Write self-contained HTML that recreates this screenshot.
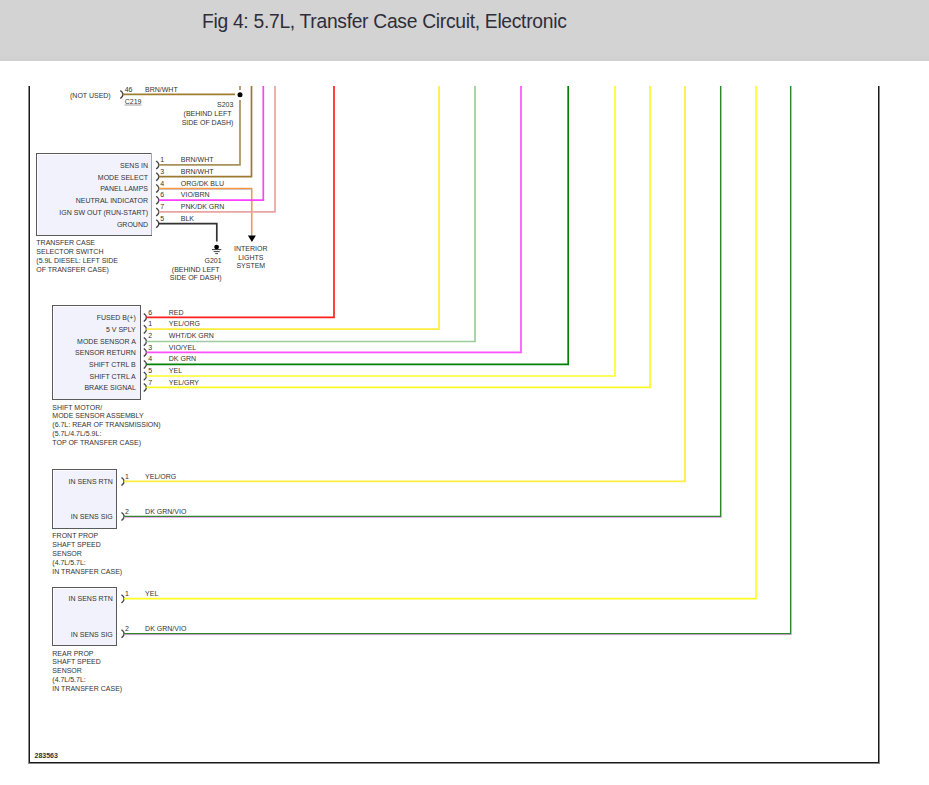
<!DOCTYPE html>
<html><head><meta charset="utf-8"><style>
html,body{margin:0;padding:0;background:#fff;width:929px;height:785px;overflow:hidden}
#hdr{position:absolute;left:0;top:0;width:929px;height:61px;background:linear-gradient(#d3d3d3 0,#d3d3d3 56px,#cfcfcf 61px)}
#title{position:absolute;left:202px;top:10.5px;font-family:"Liberation Sans",sans-serif;font-size:19.3px;letter-spacing:-0.3px;color:#2e2e3a;white-space:nowrap}
svg{position:absolute;left:0;top:0}
svg text{font-family:"Liberation Sans",sans-serif}
</style></head><body>
<div id="hdr"><div id="title">Fig 4: 5.7L, Transfer Case Circuit, Electronic</div></div>
<svg width="929" height="785" viewBox="0 0 929 785">
<rect x="28" y="86" width="1" height="678" fill="#8a8a8a"/>
<rect x="29" y="86" width="1" height="677" fill="#1a1a1a"/>
<rect x="878" y="86" width="1" height="677" fill="#1a1a1a"/>
<rect x="879" y="86" width="1" height="678" fill="#8a8a8a"/>
<rect x="29" y="762" width="850" height="1" fill="#1a1a1a"/>
<rect x="28" y="763" width="852" height="1" fill="#8a8a8a"/>
<text x="70" y="98.00" text-anchor="start" fill="#333" font-size="7" >(NOT USED)</text>
<path d="M120.3,90.5 Q123.3,92.9 122.8,94.4 Q123.3,95.9 120.3,98.60000000000001" fill="none" stroke="#444" stroke-width="1.3"/>
<line x1="122.8" y1="94.4" x2="235" y2="94.4" stroke="#a07c30" stroke-width="1.7"/>
<text x="124.7" y="92.00" text-anchor="start" fill="#333" font-size="7" >46</text>
<text x="145" y="92.00" text-anchor="start" fill="#333" font-size="7" >BRN/WHT</text>
<text x="124.7" y="104.00" text-anchor="start" fill="#333" font-size="7" >C219</text>
<line x1="124.5" y1="105" x2="141.5" y2="105" stroke="#888" stroke-width="0.8"/>
<text x="233.4" y="107.00" text-anchor="end" fill="#333" font-size="7" >S203</text>
<text x="233.4" y="116.00" text-anchor="end" fill="#333" font-size="7" >(BEHIND LEFT </text>
<text x="233.4" y="125.00" text-anchor="end" fill="#333" font-size="7" >SIDE OF DASH)</text>
<rect x="36" y="153" width="116" height="83" fill="#5a5a5a"/>
<rect x="151" y="153" width="1" height="82" fill="#a8a8b0"/>
<rect x="37" y="154" width="114" height="81" fill="#fdfdff"/>
<rect x="38" y="155" width="113" height="80" fill="#f2f2fc"/>
<text x="148" y="167.90" text-anchor="end" fill="#333" font-size="7" >SENS IN</text>
<path d="M156.2,161.0 Q159.2,163.4 158.7,164.9 Q159.2,166.4 156.2,169.1" fill="none" stroke="#444" stroke-width="1.3"/>
<text x="160.2" y="162.00" text-anchor="start" fill="#333" font-size="7" >1</text>
<text x="180.8" y="162.00" text-anchor="start" fill="#333" font-size="7" >BRN/WHT</text>
<text x="148" y="179.60" text-anchor="end" fill="#333" font-size="7" >MODE SELECT</text>
<path d="M156.2,172.7 Q159.2,175.1 158.7,176.6 Q159.2,178.1 156.2,180.79999999999998" fill="none" stroke="#444" stroke-width="1.3"/>
<text x="160.2" y="174.00" text-anchor="start" fill="#333" font-size="7" >3</text>
<text x="180.8" y="174.00" text-anchor="start" fill="#333" font-size="7" >BRN/WHT</text>
<text x="148" y="191.40" text-anchor="end" fill="#333" font-size="7" >PANEL LAMPS</text>
<path d="M156.2,184.5 Q159.2,186.9 158.7,188.4 Q159.2,189.9 156.2,192.6" fill="none" stroke="#444" stroke-width="1.3"/>
<text x="160.2" y="186.00" text-anchor="start" fill="#333" font-size="7" >4</text>
<text x="180.8" y="186.00" text-anchor="start" fill="#333" font-size="7" >ORG/DK BLU</text>
<text x="148" y="203.10" text-anchor="end" fill="#333" font-size="7" >NEUTRAL INDICATOR</text>
<path d="M156.2,196.2 Q159.2,198.6 158.7,200.1 Q159.2,201.6 156.2,204.29999999999998" fill="none" stroke="#444" stroke-width="1.3"/>
<text x="160.2" y="197.00" text-anchor="start" fill="#333" font-size="7" >6</text>
<text x="180.8" y="197.00" text-anchor="start" fill="#333" font-size="7" >VIO/BRN</text>
<text x="148" y="214.90" text-anchor="end" fill="#333" font-size="7" >IGN SW OUT (RUN-START)</text>
<path d="M156.2,208.0 Q159.2,210.4 158.7,211.9 Q159.2,213.4 156.2,216.1" fill="none" stroke="#444" stroke-width="1.3"/>
<text x="160.2" y="209.00" text-anchor="start" fill="#333" font-size="7" >7</text>
<text x="180.8" y="209.00" text-anchor="start" fill="#333" font-size="7" >PNK/DK GRN</text>
<text x="148" y="226.60" text-anchor="end" fill="#333" font-size="7" >GROUND</text>
<path d="M156.2,219.7 Q159.2,222.1 158.7,223.6 Q159.2,225.1 156.2,227.79999999999998" fill="none" stroke="#444" stroke-width="1.3"/>
<text x="160.2" y="221.00" text-anchor="start" fill="#333" font-size="7" >5</text>
<text x="180.8" y="221.00" text-anchor="start" fill="#333" font-size="7" >BLK</text>
<polyline points="158.7,164.9 240,164.9 240,100" fill="none" stroke="#a8925c" stroke-width="1.7" stroke-linejoin="miter" />
<line x1="240" y1="86" x2="240" y2="90" stroke="#a8925c" stroke-width="1.7"/>
<circle cx="240" cy="94.7" r="4.2" fill="#fff"/><circle cx="240" cy="94.7" r="2.5" fill="#000"/>
<polyline points="158.7,176.6 251.5,176.6 251.5,86" fill="none" stroke="#9a7a30" stroke-width="1.7" stroke-linejoin="miter" />
<polyline points="158.7,189.3 251.7,189.3 251.7,236" fill="none" stroke="#b4c0f0" stroke-width="1" stroke-linejoin="miter" />
<polyline points="158.7,188.4 251.7,188.4 251.7,236" fill="none" stroke="#fa9840" stroke-width="1.5" stroke-linejoin="miter" />
<polygon points="247.9,235.5 255.9,235.5 251.9,242" fill="#000"/>
<polyline points="158.7,200.1 263.3,200.1 263.3,86" fill="none" stroke="#ff40ff" stroke-width="1.7" stroke-linejoin="miter" />
<polyline points="158.7,211.9 275,211.9 275,86" fill="none" stroke="#e8a4a4" stroke-width="1.7" stroke-linejoin="miter" />
<polyline points="158.7,223.6 216.8,223.6 216.8,241.6" fill="none" stroke="#333" stroke-width="1.7" stroke-linejoin="miter" />
<circle cx="216.6" cy="247.1" r="2.4" fill="#000"/>
<line x1="212" y1="249.6" x2="221.3" y2="249.6" stroke="#222" stroke-width="0.9"/>
<line x1="213.7" y1="251.6" x2="219.7" y2="251.6" stroke="#333" stroke-width="0.9"/>
<line x1="215.2" y1="253.6" x2="218" y2="253.6" stroke="#333" stroke-width="0.9"/>
<text x="221.6" y="263.00" text-anchor="end" fill="#333" font-size="7" >G201</text>
<text x="221.6" y="272.00" text-anchor="end" fill="#333" font-size="7" >(BEHIND LEFT </text>
<text x="221.6" y="280.00" text-anchor="end" fill="#333" font-size="7" >SIDE OF DASH)</text>
<text x="250.8" y="251.00" text-anchor="middle" fill="#333" font-size="7" >INTERIOR</text>
<text x="250.8" y="260.00" text-anchor="middle" fill="#333" font-size="7" >LIGHTS</text>
<text x="250.8" y="268.00" text-anchor="middle" fill="#333" font-size="7" >SYSTEM</text>
<text x="36.3" y="245.30" text-anchor="start" fill="#333" font-size="7" >TRANSFER CASE</text>
<text x="36.3" y="254.10" text-anchor="start" fill="#333" font-size="7" >SELECTOR SWITCH</text>
<text x="36.3" y="262.90" text-anchor="start" fill="#333" font-size="7" >(5.9L DIESEL: LEFT SIDE</text>
<text x="36.3" y="271.70" text-anchor="start" fill="#333" font-size="7" >OF TRANSFER CASE)</text>
<rect x="52" y="305" width="89" height="95" fill="#5a5a5a"/>
<rect x="140" y="305" width="1" height="94" fill="#5a5a5a"/>
<rect x="53" y="306" width="87" height="93" fill="#fdfdff"/>
<rect x="54" y="307" width="86" height="92" fill="#f2f2fc"/>
<text x="135.8" y="320.20" text-anchor="end" fill="#333" font-size="7" >FUSED B(+)</text>
<path d="M143.8,313.5 Q146.8,315.9 146.3,317.4 Q146.8,318.9 143.8,321.59999999999997" fill="none" stroke="#444" stroke-width="1.3"/>
<text x="148.2" y="315.00" text-anchor="start" fill="#333" font-size="7" >6</text>
<text x="168.8" y="315.00" text-anchor="start" fill="#333" font-size="7" >RED</text>
<polyline points="146.3,317.4 334,317.4 334,86" fill="none" stroke="#ff2020" stroke-width="1.7" stroke-linejoin="miter" />
<text x="135.8" y="332.00" text-anchor="end" fill="#333" font-size="7" >5 V SPLY</text>
<path d="M143.8,325.3 Q146.8,327.7 146.3,329.2 Q146.8,330.7 143.8,333.4" fill="none" stroke="#444" stroke-width="1.3"/>
<text x="148.2" y="326.00" text-anchor="start" fill="#333" font-size="7" >1</text>
<text x="168.8" y="326.00" text-anchor="start" fill="#333" font-size="7" >YEL/ORG</text>
<polyline points="146.3,329.2 439,329.2 439,86" fill="none" stroke="#ffec40" stroke-width="1.7" stroke-linejoin="miter" />
<text x="135.8" y="344.30" text-anchor="end" fill="#333" font-size="7" >MODE SENSOR A</text>
<path d="M143.8,337.6 Q146.8,340.0 146.3,341.5 Q146.8,343.0 143.8,345.7" fill="none" stroke="#444" stroke-width="1.3"/>
<text x="148.2" y="338.00" text-anchor="start" fill="#333" font-size="7" >2</text>
<text x="168.8" y="338.00" text-anchor="start" fill="#333" font-size="7" >WHT/DK GRN</text>
<polyline points="146.3,341.5 475,341.5 475,86" fill="none" stroke="#9ccc9c" stroke-width="1.7" stroke-linejoin="miter" />
<text x="135.8" y="355.20" text-anchor="end" fill="#333" font-size="7" >SENSOR RETURN</text>
<path d="M143.8,348.5 Q146.8,350.9 146.3,352.4 Q146.8,353.9 143.8,356.59999999999997" fill="none" stroke="#444" stroke-width="1.3"/>
<text x="148.2" y="350.00" text-anchor="start" fill="#333" font-size="7" >3</text>
<text x="168.8" y="350.00" text-anchor="start" fill="#333" font-size="7" >VIO/YEL</text>
<polyline points="146.3,352.4 521,352.4 521,86" fill="none" stroke="#ff50ff" stroke-width="1.7" stroke-linejoin="miter" />
<text x="135.8" y="367.10" text-anchor="end" fill="#333" font-size="7" >SHIFT CTRL B</text>
<path d="M143.8,360.40000000000003 Q146.8,362.8 146.3,364.3 Q146.8,365.8 143.8,368.5" fill="none" stroke="#444" stroke-width="1.3"/>
<text x="148.2" y="361.00" text-anchor="start" fill="#333" font-size="7" >4</text>
<text x="168.8" y="361.00" text-anchor="start" fill="#333" font-size="7" >DK GRN</text>
<polyline points="146.3,364.3 568.2,364.3 568.2,86" fill="none" stroke="#008000" stroke-width="1.7" stroke-linejoin="miter" />
<text x="135.8" y="378.80" text-anchor="end" fill="#333" font-size="7" >SHIFT CTRL A</text>
<path d="M143.8,372.1 Q146.8,374.5 146.3,376 Q146.8,377.5 143.8,380.2" fill="none" stroke="#444" stroke-width="1.3"/>
<text x="148.2" y="373.00" text-anchor="start" fill="#333" font-size="7" >5</text>
<text x="168.8" y="373.00" text-anchor="start" fill="#333" font-size="7" >YEL</text>
<polyline points="146.3,376 615,376 615,86" fill="none" stroke="#ffff28" stroke-width="1.7" stroke-linejoin="miter" />
<text x="135.8" y="390.20" text-anchor="end" fill="#333" font-size="7" >BRAKE SIGNAL</text>
<path d="M143.8,383.5 Q146.8,385.9 146.3,387.4 Q146.8,388.9 143.8,391.59999999999997" fill="none" stroke="#444" stroke-width="1.3"/>
<text x="148.2" y="385.00" text-anchor="start" fill="#333" font-size="7" >7</text>
<text x="168.8" y="385.00" text-anchor="start" fill="#333" font-size="7" >YEL/GRY</text>
<polyline points="146.3,387.4 650,387.4 650,86" fill="none" stroke="#fafa28" stroke-width="1.7" stroke-linejoin="miter" />
<text x="52.3" y="410.00" text-anchor="start" fill="#333" font-size="7" >SHIFT MOTOR/</text>
<text x="52.3" y="418.00" text-anchor="start" fill="#333" font-size="7" >MODE SENSOR ASSEMBLY</text>
<text x="52.3" y="427.00" text-anchor="start" fill="#333" font-size="7" >(6.7L: REAR OF TRANSMISSION)</text>
<text x="52.3" y="436.00" text-anchor="start" fill="#333" font-size="7" >(5.7L/4.7L/5.9L:</text>
<text x="52.3" y="445.00" text-anchor="start" fill="#333" font-size="7" >TOP OF TRANSFER CASE)</text>
<rect x="52" y="469" width="65" height="60" fill="#5a5a5a"/>
<rect x="116" y="469" width="1" height="59" fill="#5a5a5a"/>
<rect x="53" y="470" width="63" height="58" fill="#fdfdff"/>
<rect x="54" y="471" width="62" height="57" fill="#f2f2fc"/>
<text x="112.8" y="484.10" text-anchor="end" fill="#333" font-size="7" >IN SENS RTN</text>
<text x="112.8" y="519.00" text-anchor="end" fill="#333" font-size="7" >IN SENS SIG</text>
<path d="M121.5,477.5 Q124.5,479.9 124,481.4 Q124.5,482.9 121.5,485.59999999999997" fill="none" stroke="#444" stroke-width="1.3"/>
<path d="M121.5,512.5 Q124.5,514.9 124,516.4 Q124.5,517.9 121.5,520.6" fill="none" stroke="#444" stroke-width="1.3"/>
<text x="124.9" y="478.80" text-anchor="start" fill="#333" font-size="7" >1</text>
<text x="124.9" y="513.80" text-anchor="start" fill="#333" font-size="7" >2</text>
<text x="145.1" y="478.80" text-anchor="start" fill="#333" font-size="7" >YEL/ORG</text>
<text x="145.1" y="513.80" text-anchor="start" fill="#333" font-size="7" >DK GRN/VIO</text>
<polyline points="124,481.4 685,481.4 685,86" fill="none" stroke="#ffec40" stroke-width="1.7" stroke-linejoin="miter" />
<polyline points="124,517.4 721.5,517.4 721.5,86" fill="none" stroke="#f0a0f0" stroke-width="1" stroke-linejoin="miter" />
<polyline points="124,516.4 720.5,516.4 720.5,86" fill="none" stroke="#2e862e" stroke-width="1.1" stroke-linejoin="miter" />
<text x="52.3" y="538.00" text-anchor="start" fill="#333" font-size="7" >FRONT PROP</text>
<text x="52.3" y="547.00" text-anchor="start" fill="#333" font-size="7" >SHAFT SPEED</text>
<text x="52.3" y="556.00" text-anchor="start" fill="#333" font-size="7" >SENSOR</text>
<text x="52.3" y="565.00" text-anchor="start" fill="#333" font-size="7" >(4.7L/5.7L:</text>
<text x="52.3" y="574.00" text-anchor="start" fill="#333" font-size="7" >IN TRANSFER CASE)</text>
<rect x="52" y="587" width="65" height="59" fill="#5a5a5a"/>
<rect x="116" y="587" width="1" height="58" fill="#5a5a5a"/>
<rect x="53" y="588" width="63" height="57" fill="#fdfdff"/>
<rect x="54" y="589" width="62" height="56" fill="#f2f2fc"/>
<text x="112.8" y="601.40" text-anchor="end" fill="#333" font-size="7" >IN SENS RTN</text>
<text x="112.8" y="637.40" text-anchor="end" fill="#333" font-size="7" >IN SENS SIG</text>
<path d="M121.5,594.8000000000001 Q124.5,597.2 124,598.7 Q124.5,600.2 121.5,602.9000000000001" fill="none" stroke="#444" stroke-width="1.3"/>
<path d="M121.5,629.7 Q124.5,632.1 124,633.6 Q124.5,635.1 121.5,637.8000000000001" fill="none" stroke="#444" stroke-width="1.3"/>
<text x="124.9" y="596.10" text-anchor="start" fill="#333" font-size="7" >1</text>
<text x="124.9" y="631.00" text-anchor="start" fill="#333" font-size="7" >2</text>
<text x="145.1" y="596.10" text-anchor="start" fill="#333" font-size="7" >YEL</text>
<text x="145.1" y="631.00" text-anchor="start" fill="#333" font-size="7" >DK GRN/VIO</text>
<polyline points="124,598.7 756,598.7 756,86" fill="none" stroke="#ffff20" stroke-width="1.7" stroke-linejoin="miter" />
<polyline points="124,634.6 791.5,634.6 791.5,86" fill="none" stroke="#f0a0f0" stroke-width="1" stroke-linejoin="miter" />
<polyline points="124,633.6 790.5,633.6 790.5,86" fill="none" stroke="#2e862e" stroke-width="1.1" stroke-linejoin="miter" />
<text x="52.3" y="656.00" text-anchor="start" fill="#333" font-size="7" >REAR PROP</text>
<text x="52.3" y="664.00" text-anchor="start" fill="#333" font-size="7" >SHAFT SPEED</text>
<text x="52.3" y="673.00" text-anchor="start" fill="#333" font-size="7" >SENSOR</text>
<text x="52.3" y="682.00" text-anchor="start" fill="#333" font-size="7" >(4.7L/5.7L:</text>
<text x="52.3" y="691.00" text-anchor="start" fill="#333" font-size="7" >IN TRANSFER CASE)</text>
<text x="34.5" y="758.00" text-anchor="start" fill="#333" font-size="7" font-weight="bold">283563</text>
</svg>
</body></html>
